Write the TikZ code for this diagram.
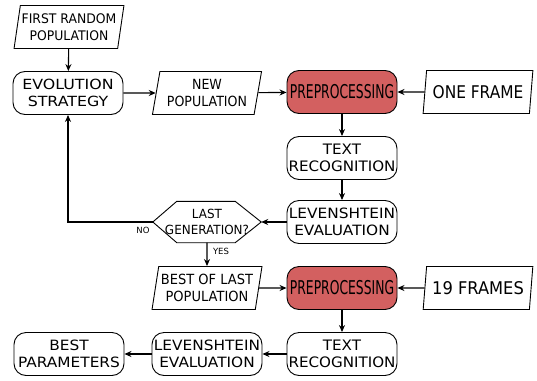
\documentclass[tikz,border=0pt]{standalone}
\usepackage{fontspec}
\usepackage{graphicx}
\setmainfont{DejaVu Sans}
\usetikzlibrary{shapes.geometric,arrows.meta}
\definecolor{prepred}{RGB}{211,96,96}
\newcommand{\sx}[2]{\scalebox{#1}[1]{#2}}
\begin{document}
\begin{tikzpicture}[x=1pt,y=-1pt,
  box/.style={draw, line width=0.9pt, rounded corners=12pt, minimum width=110pt, minimum height=43pt, inner sep=0pt, align=center},
  prep/.style={box, fill=prepred},
  para/.style={draw, line width=0.9pt, trapezium, trapezium left angle=77, trapezium right angle=103, trapezium stretches=true, minimum width=110pt, minimum height=43pt, inner sep=0pt, align=center},
  hexa/.style={minimum width=108pt, minimum height=41pt, inner sep=0pt, align=center},
  outline/.style={line width=0.9pt},
  arr/.style={-{Stealth[length=7pt,width=6pt]}, line width=1.1pt},
  lbl/.style={font=\fontsize{8.5}{10}\selectfont, inner sep=0pt}
]
\useasboundingbox (0,0) rectangle (537,380);

\node[para, font=\fontsize{13.2}{16.5}\selectfont] (first) at (69,27) {\sx{0.94}{FIRST RANDOM}\\\sx{0.94}{POPULATION}};
\node[box, font=\fontsize{14}{16.5}\selectfont] (evo) at (68,93) {\sx{1.13}{EVOLUTION}\\\sx{1.13}{STRATEGY}};
\node[para, font=\fontsize{14}{17}\selectfont] (new) at (207,93) {\sx{0.9}{NEW}\\\sx{0.9}{POPULATION}};
\node[prep, font=\fontsize{19}{20}\selectfont] (prep1) at (342,92) {\sx{0.65}{PREPROCESSING}};
\node[para, font=\fontsize{17.5}{20}\selectfont] (one) at (478,92) {\sx{0.88}{ONE FRAME}};
\node[box, font=\fontsize{14.4}{17}\selectfont] (text1) at (342,158) {\sx{1.05}{TEXT}\\\sx{1.05}{RECOGNITION}};
\node[box, font=\fontsize{14.2}{17}\selectfont] (lev1) at (342,222) {\sx{1.08}{LEVENSHTEIN}\\\sx{1.08}{EVALUATION}};
\node[hexa, font=\fontsize{12.6}{15.5}\selectfont] (hex) at (207,222) {\sx{0.95}{LAST}\\\sx{0.95}{GENERATION?}};
\draw[outline] (hex.west) -- ([xshift=24pt]hex.north west) -- ([xshift=-26pt]hex.north east) -- (hex.east) -- ([xshift=-26pt]hex.south east) -- ([xshift=24pt]hex.south west) -- cycle;
\node[para, font=\fontsize{14}{17}\selectfont] (best) at (207,288) {\sx{0.93}{BEST OF LAST}\\\sx{0.93}{POPULATION}};
\node[prep, font=\fontsize{19}{20}\selectfont] (prep2) at (342,288) {\sx{0.65}{PREPROCESSING}};
\node[para, font=\fontsize{17.5}{20}\selectfont] (nineteen) at (478,288) {\sx{0.93}{19 FRAMES}};
\node[box, font=\fontsize{14.4}{17}\selectfont] (text2) at (342,354) {\sx{1.05}{TEXT}\\\sx{1.05}{RECOGNITION}};
\node[box, font=\fontsize{14.2}{17}\selectfont] (lev2) at (207,354) {\sx{1.08}{LEVENSHTEIN}\\\sx{1.08}{EVALUATION}};
\node[box, font=\fontsize{14.2}{17}\selectfont] (params) at (69,354) {\sx{1.08}{BEST}\\\sx{1.08}{PARAMETERS}};

\node[lbl] (no) at (143,230) {NO};
\node[lbl] (yes) at (221,251) {YES};

\draw[arr] (first) -- (evo);
\draw[arr] (evo) -- (new);
\draw[arr] (new) -- (prep1);
\draw[arr] (one) -- (prep1);
\draw[arr] (prep1) -- (text1);
\draw[arr] (text1) -- (lev1);
\draw[arr] (lev1) -- (hex);
\draw[arr] (hex.west) -| (evo.south);
\draw[arr] (hex.south) -- (best);
\draw[arr] (best) -- (prep2);
\draw[arr] (nineteen) -- (prep2);
\draw[arr] (prep2) -- (text2);
\draw[arr] (text2) -- (lev2);
\draw[arr] (lev2) -- (params);
\end{tikzpicture}
\end{document}
